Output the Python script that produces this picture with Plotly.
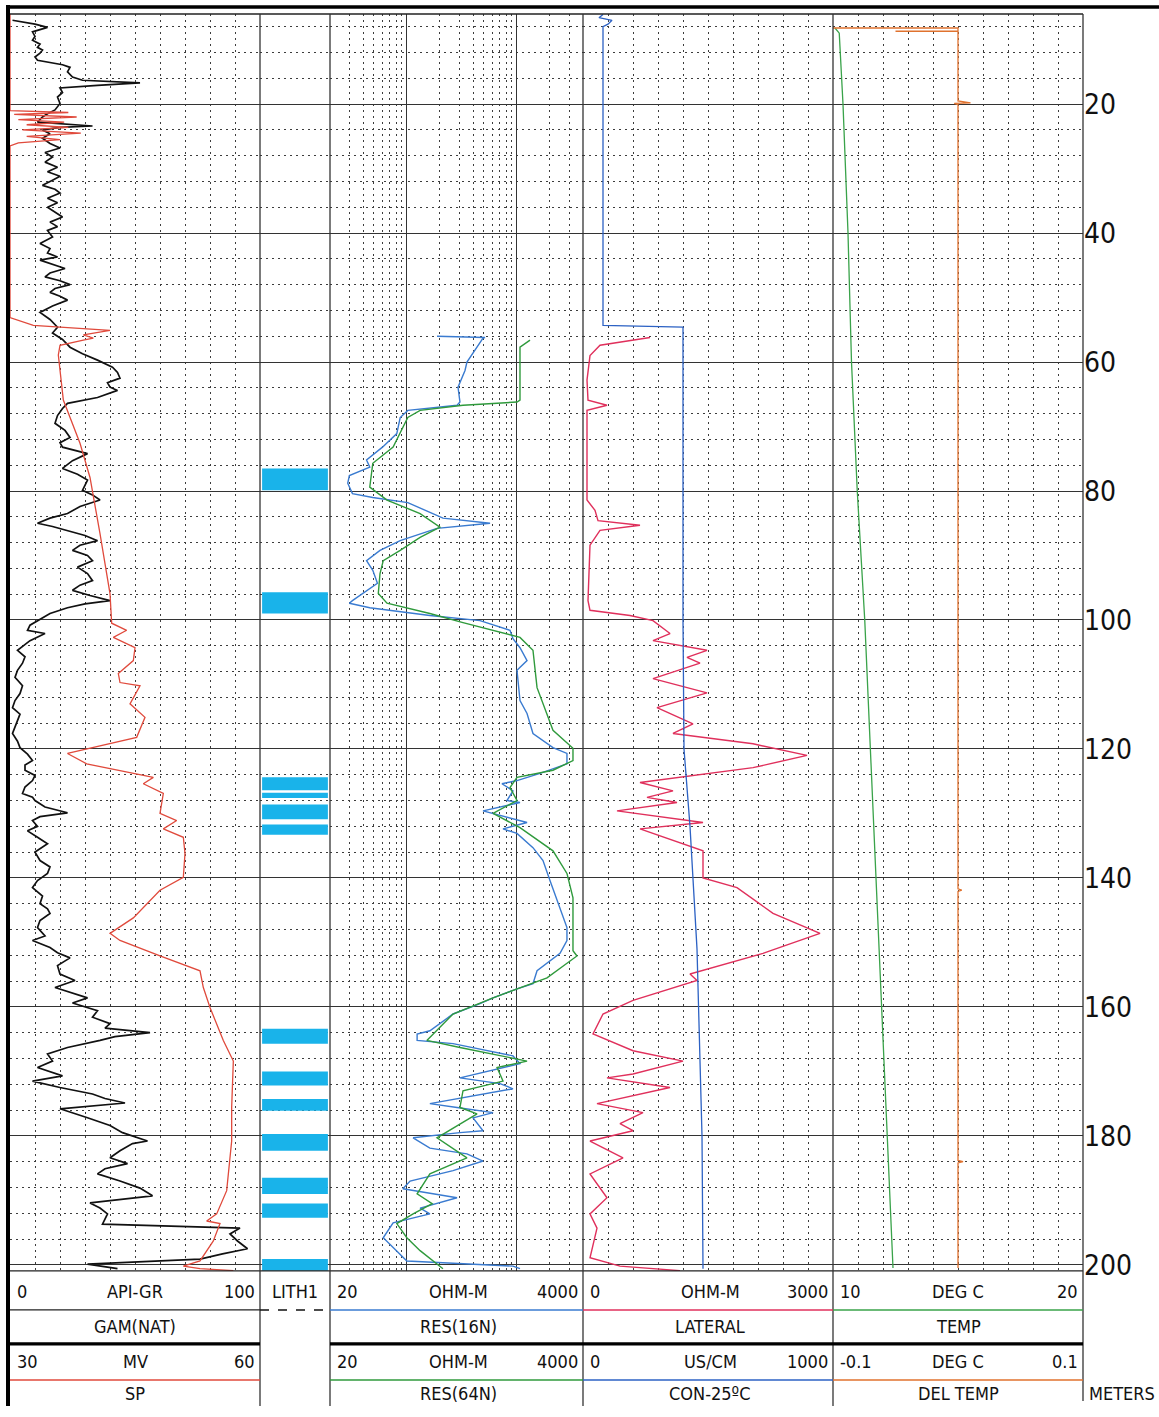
import math
import plotly.graph_objects as go

# ---------------- DATA ----------------
GR_DEPTH = [7.0, 7.6, 8.1, 8.5, 8.8, 9.5, 10.1, 10.7, 11.2, 11.6, 12.1, 12.7, 13.2, 13.9, 14.3, 15.0, 15.8, 16.3, 16.7, 17.1,
            17.5, 18.2, 18.9, 19.9, 20.9, 21.5, 22.0, 22.8, 23.4, 23.6, 24.0, 24.6, 25.3, 26.1, 26.8, 27.5, 28.2, 29.0, 29.8, 30.5,
            31.2, 31.8, 32.6, 33.2, 33.8, 34.6, 35.3, 36.0, 36.8, 37.5, 38.3, 39.0, 39.6, 40.6, 41.6, 42.4, 43.1, 43.7, 44.2, 44.9,
            45.5, 46.2, 46.8, 47.4, 48.0, 48.6, 49.2, 49.8, 50.4, 51.3, 52.3, 53.4, 54.6, 55.5, 56.5, 57.7, 58.7, 59.7, 60.8, 61.6,
            62.5, 63.2, 63.9, 64.4, 65.5, 66.4, 67.2, 68.3, 69.5, 70.6, 71.7, 72.5, 73.2, 74.2, 75.3, 76.5, 77.4, 78.3, 79.9, 80.6,
            81.4, 82.4, 83.5, 84.2, 85.0, 85.5, 86.1, 86.9, 87.7, 88.4, 89.2, 90.0, 90.8, 91.8, 92.8, 93.9, 94.6, 95.4, 96.2, 97.0,
            97.5, 98.1, 99.0, 100.1, 100.8, 101.6, 102.1, 103.2, 104.7, 105.7, 106.7, 107.8, 108.9, 110.2, 111.4, 112.5, 113.6, 114.6,
            115.6, 116.6, 117.6, 118.8, 119.8, 120.8, 121.8, 122.5, 123.3, 124.1, 124.9, 125.9, 126.9, 127.5, 128.0, 129.0, 129.9,
            130.5, 131.1, 132.0, 132.7, 133.7, 134.7, 136.0, 137.3, 138.3, 139.3, 140.4, 141.5, 142.8, 144.0, 144.8, 145.5, 146.6,
            147.7, 149.0, 149.7, 150.8, 151.6, 152.4, 153.6, 154.9, 155.9, 157.0, 157.8, 158.6, 159.4, 160.6, 161.6, 162.6, 163.3,
            164.0, 164.6, 165.2, 166.3, 167.3, 168.4, 169.4, 170.7, 171.5, 172.5, 173.5, 174.2, 174.9, 175.8, 176.5, 177.2, 178.4,
            179.5, 180.8, 181.2, 182.3, 183.4, 184.3, 185.1, 185.9, 187.0, 188.1, 189.3, 190.4, 191.2, 192.1, 193.7, 194.3, 195.2,
            196.3, 197.5, 198.3, 199.1, 199.9, 200.6]
GR_API = [1, 10, 15, 12, 9, 10, 9, 12, 11, 13, 12, 10, 11, 21, 24, 23, 25, 29, 52, 35,
          20, 21, 19, 20, 18, 15, 13, 11, 33, 20, 13, 16, 13, 16, 20, 14, 17, 14, 19, 15,
          20, 17, 13, 18, 20, 15, 19, 15, 18, 21, 16, 19, 15, 17, 12, 16, 15, 19, 12, 17,
          22, 16, 14, 20, 24, 18, 16, 20, 23, 17, 12, 16, 19, 17, 21, 24, 29, 35, 41, 43,
          44, 39, 40, 43, 35, 23, 21, 19, 18, 22, 24, 20, 21, 31, 25, 21, 27, 31, 29, 33,
          36, 28, 23, 16, 11, 17, 23, 30, 35, 28, 25, 31, 33, 27, 31, 33, 28, 25, 32, 40,
          30, 23, 16, 11, 8, 7, 14, 8, 3, 6, 5, 3, 2, 5, 4, 2, 1, 4,
          3, 2, 1, 3, 4, 7, 9, 6, 6, 10, 9, 6, 5, 9, 10, 14, 23,
          12, 9, 11, 7, 11, 15, 10, 12, 16, 15, 11, 9, 13, 12, 15, 16, 12,
          11, 14, 9, 16, 19, 24, 19, 20, 26, 18, 25, 31, 25, 35, 33, 40, 38,
          56, 42, 36, 23, 15, 17, 11, 21, 9, 20, 33, 38, 46, 20, 26, 31, 40,
          45, 55, 49, 44, 40, 47, 38, 35, 44, 52, 57, 32, 36, 39, 37, 92, 88,
          91, 95, 85, 76, 31, 43]

SP_DEPTH = [6.0, 21.0, 21.3, 21.6, 22.0, 22.4, 22.8, 23.2, 23.6, 24.0, 24.5, 25.0, 25.5, 26.0, 26.5, 53.1, 54.3, 55.1, 55.8,
            56.3, 56.6, 57.4, 58.9, 65.9, 72.6, 77.9, 86.6, 95.9, 100.5, 101.6, 102.7, 104.3, 106.3, 108.3, 109.7, 110.2, 113.0,
            115.1, 118.2, 119.5, 120.7, 122.3, 123.8, 124.4, 125.4, 126.9, 130.0, 131.1, 132.4, 133.7, 136.2, 139.9, 141.9, 146.2,
            148.6, 149.7, 152.1, 154.4, 157.0, 160.1, 165.2, 168.4, 175.6, 180.8, 188.5, 192.1, 193.2, 193.6, 196.3, 199.4, 200.2,
            200.6, 200.9]
SP_MV = [30, 30, 37, 30.5, 38, 31, 36.5, 32, 37, 31.5, 38.5, 32, 36, 31, 30, 30, 32.8, 42, 38.8,
         40, 38.8, 36, 35.8, 36.4, 38.4, 39.6, 40.8, 42, 42.2, 44, 42.4, 45, 44.8, 43, 43.2, 45.6, 44.4,
         46.2, 45.2, 40.8, 36.9, 39.2, 45.2, 47.2, 46, 48.4, 48, 50, 48.4, 50.8, 51, 50.8, 48, 44.8,
         42, 43.2, 48, 52.8, 53.2, 54, 55.6, 56.8, 56.6, 56.6, 56, 54.8, 53.6, 55.2, 54.4, 52.8, 50.8,
         52.8, 56.8]

LITH_TOP = [76.5, 95.7, 124.4, 126.8, 128.6, 131.7, 163.4, 170.0, 174.3, 179.7, 186.5, 190.5, 199.1]
LITH_BOT = [79.9, 99.0, 126.4, 127.6, 130.9, 133.3, 165.7, 172.2, 176.1, 182.3, 189.0, 192.7, 200.9]

RES16_DEPTH = [56.0, 56.2, 56.3, 60.0, 61.3, 63.9, 66.2, 66.7, 67.0, 67.5, 68.6, 71.1, 73.2, 75.2, 76.3, 77.6, 78.8, 80.4,
               81.0, 81.8, 84.2, 85.0, 85.8, 87.7, 89.2, 90.8, 92.3, 94.3, 97.0, 97.4, 98.1, 99.3, 100.1, 101.6, 102.9, 104.3,
               106.3, 107.8, 112.5, 114.5, 117.6, 119.8, 120.7, 122.3, 123.8, 124.9, 125.4, 126.5, 128.0, 128.3, 129.6, 130.0,
               131.4, 132.4, 133.1, 135.3, 137.3, 140.4, 144.6, 147.7, 149.7, 151.7, 154.4, 156.4, 157.2, 158.6, 159.5, 161.1,
               163.7, 164.2, 165.2, 165.7, 167.6, 168.8, 171.0, 171.9, 172.7, 174.1, 175.0, 175.6, 176.4, 177.2, 179.2, 179.5,
               180.3, 181.9, 182.8, 183.9, 185.4, 187.0, 188.2, 189.6, 191.2, 192.1, 193.5, 195.8, 199.4, 200.2, 200.6]
RES16_OHMM = [188, 514, 493, 352, 338, 292, 304, 286, 200, 102, 87, 81, 60, 43, 46, 30, 29, 32,
              49, 102, 213, 571, 188, 87, 57, 43, 49, 54, 32, 30, 46, 162, 463, 867, 923, 1069,
              1239, 1004, 1069, 1239, 1403, 2133, 2858, 2858, 1626, 1004, 733, 923, 814, 1069, 493, 608,
              1239, 749, 1004, 1403, 1731, 2003, 2471, 2858, 2858, 2471, 1528, 1403, 1004, 608, 463, 263,
              162, 124, 124, 263, 923, 1069, 304, 703, 923, 304, 162, 286, 608, 400, 493, 304,
              114, 162, 352, 493, 263, 107, 92, 286, 132, 162, 75, 61, 100, 923, 1069]

RES64_DEPTH = [56.6, 57.7, 65.9, 66.2, 66.7, 67.5, 68.6, 73.2, 75.7, 79.4, 81.4, 83.5, 85.6, 87.2, 89.2, 90.8, 92.8, 95.9,
               97.4, 99.0, 100.4, 102.1, 102.7, 104.7, 110.5, 117.1, 119.9, 121.8, 123.3, 124.4, 126.0, 128.0, 130.0, 132.2,
               135.8, 139.3, 143.1, 151.3, 152.1, 155.5, 158.6, 161.1, 165.2, 166.3, 168.4, 169.4, 171.5, 173.0, 175.6, 176.6,
               180.3, 183.4, 185.9, 189.0, 190.5, 192.1, 193.6, 195.8, 197.8, 200.6]
RES64_OHMM = [1319, 1069, 1069, 1004, 324, 132, 102, 75, 49, 46, 66, 132, 200, 132, 87, 61, 57, 55,
              66, 162, 324, 814, 1069, 1403, 1528, 2133, 3243, 3243, 2133, 1004, 867, 1004, 608, 1069,
              2133, 2858, 3243, 3243, 3525, 1884, 608, 263, 152, 304, 1239, 661, 749, 324, 304, 435,
              188, 352, 162, 124, 170, 114, 81, 100, 132, 213]

LAT_DEPTH = [56.2, 57.4, 59.0, 62.8, 65.9, 66.7, 67.5, 81.4, 83.0, 84.6, 85.3, 86.1, 88.4, 97.0, 98.5, 99.3, 100.1,
             102.1, 103.2, 104.7, 105.8, 106.7, 109.1, 111.3, 113.6, 116.1, 117.6, 119.2, 121.0, 122.9, 125.2, 126.5, 127.5,
             128.3, 129.6, 131.4, 132.4, 135.8, 140.0, 141.5, 145.5, 148.6, 151.3, 151.7, 154.9, 155.9, 159.0, 161.1, 164.2,
             166.8, 168.4, 170.4, 171.0, 172.5, 175.0, 176.4, 178.1, 179.2, 180.8, 183.4, 185.9, 189.6, 192.1, 194.3, 198.9,
             200.2, 200.9]
LAT_OHMM = [804, 204, 84, 48, 60, 288, 48, 48, 144, 180, 684, 204, 84, 60, 84, 564, 840,
            1044, 840, 1488, 1248, 1404, 840, 1488, 888, 1320, 1080, 2040, 2688, 2040, 684, 1080, 768,
            1128, 408, 1440, 684, 1440, 1440, 1848, 2280, 2844, 2244, 2160, 1284, 1368, 600, 240, 120,
            600, 1200, 600, 288, 1044, 168, 720, 444, 600, 84, 480, 84, 288, 84, 168, 84,
            444, 1164]

CON_DEPTH = [6.1, 6.6, 7.0, 7.6, 8.0, 53.5, 54.3, 54.6, 100.0, 120.0, 132.0, 151.0, 180.0, 200.6]
CON_USCM = [80, 64, 116, 100, 80, 80, 80, 400, 400, 404, 428, 456, 476, 480]

TEMP_DEPTH = [8.2, 9.0, 20.0, 40.0, 60.0, 80.0, 100.0, 120.0, 140.0, 160.0, 180.0, 200.5]
TEMP_DEGC = [10.08, 10.25, 10.4, 10.6, 10.74, 10.97, 11.27, 11.5, 11.72, 11.95, 12.18, 12.4]

DT_DEPTH = [8.2, 8.2, 8.7, 8.7, 8.7, 19.5, 19.8, 19.9, 20.1, 141.7, 141.9, 142.1, 183.8, 184.0, 184.2, 200.5]
DT_DEGC = [-0.1, 0.0, 0.0, -0.05, 0.0, 0.0, 0.01, -0.003, 0.0, 0.0, 0.003, 0.0, 0.0, 0.004, 0.0, 0.0]

DEPTH_TICKS = [20, 40, 60, 80, 100, 120, 140, 160, 180, 200]
RES_MINOR = [30, 40, 50, 60, 70, 80, 90, 200, 300, 400, 500, 600, 700, 800, 900, 2000, 3000]

# ---------------- LAYOUT CONSTANTS ----------------
W, H = 1159, 1417
HE = 1405  # effective rendered paper height observed in the screenshot
X0, X1, X2, X3, X4, X5 = 10, 260, 330, 583, 833, 1083
PT, PB = 14, 1270
D_TOP, D_BOT = 6.03, 200.94
NARROW = "Liberation Sans Narrow, DejaVu Sans Condensed, Arial Narrow, DejaVu Sans, sans-serif"
DOT = "2px,4px"
GRIDC = "#3c3c3c"


def px(x):
    return x / W


def py(y):
    return max(0.0, 1 - y / HE)


fig = go.Figure()

fig.add_trace(go.Scatter(x=SP_MV, y=SP_DEPTH, xaxis="x2", yaxis="y", mode="lines",
                         line=dict(color="#e04a3c", width=1.3)))
fig.add_trace(go.Scatter(x=GR_API, y=GR_DEPTH, xaxis="x", yaxis="y", mode="lines",
                         line=dict(color="#111111", width=1.7)))

centers = [(a + b) / 2 for a, b in zip(LITH_TOP, LITH_BOT)]
thick = [b - a for a, b in zip(LITH_TOP, LITH_BOT)]
fig.add_trace(go.Bar(y=centers, x=[0.94] * len(centers), base=0.03, width=thick, orientation="h",
                     xaxis="x3", yaxis="y", marker=dict(color="#19b3ea", line=dict(width=0))))

fig.add_trace(go.Scatter(x=RES64_OHMM, y=RES64_DEPTH, xaxis="x5", yaxis="y", mode="lines",
                         line=dict(color="#2f9a3c", width=1.4)))
fig.add_trace(go.Scatter(x=RES16_OHMM, y=RES16_DEPTH, xaxis="x4", yaxis="y", mode="lines",
                         line=dict(color="#3a7bd0", width=1.4)))

fig.add_trace(go.Scatter(x=CON_USCM, y=CON_DEPTH, xaxis="x7", yaxis="y", mode="lines",
                         line=dict(color="#2d62c4", width=1.3)))
fig.add_trace(go.Scatter(x=LAT_OHMM, y=LAT_DEPTH, xaxis="x6", yaxis="y", mode="lines",
                         line=dict(color="#e0305c", width=1.4)))

fig.add_trace(go.Scatter(x=TEMP_DEGC, y=TEMP_DEPTH, xaxis="x8", yaxis="y", mode="lines",
                         line=dict(color="#3aa34a", width=1.3)))
fig.add_trace(go.Scatter(x=DT_DEGC, y=DT_DEPTH, xaxis="x9", yaxis="y", mode="lines",
                         line=dict(color="#e0722e", width=1.3)))

base_ax = dict(showticklabels=False, ticks="", zeroline=False, showline=False, fixedrange=True)


def lin_axis(x_from, x_to, rng, dtick, grid=True):
    return dict(base_ax, domain=[px(x_from), px(x_to)], range=rng, anchor="y", showgrid=grid,
                tick0=rng[0], dtick=dtick, gridcolor=GRIDC, griddash=DOT, gridwidth=1)


def overlay_axis(rng, over, typ="linear"):
    return dict(base_ax, overlaying=over, range=rng, anchor="y", visible=False, type=typ, showgrid=False)


res_rng = [math.log10(20), math.log10(4000)]

fig.update_layout(
    width=W, height=H, autosize=False, margin=dict(l=0, r=0, t=0, b=0, pad=0),
    paper_bgcolor="white", plot_bgcolor="white", showlegend=False,
    xaxis=lin_axis(X0, X1, [0, 100], 10),
    xaxis2=overlay_axis([30, 60], "x"),
    xaxis3=lin_axis(X1, X2, [0, 1], 1, grid=False),
    xaxis4=dict(base_ax, domain=[px(X2), px(X3)], type="log", range=res_rng, anchor="y",
                tickmode="array", tickvals=[100, 1000], showgrid=True, gridcolor="#333333", gridwidth=1.3,
                minor=dict(tickmode="array", tickvals=RES_MINOR, showgrid=True, gridcolor=GRIDC,
                           griddash=DOT, gridwidth=1)),
    xaxis5=overlay_axis(res_rng, "x4", "log"),
    xaxis6=lin_axis(X3, X4, [0, 3000], 300),
    xaxis7=overlay_axis([0, 1000], "x6"),
    xaxis8=lin_axis(X4, X5, [10, 20], 1),
    xaxis9=overlay_axis([-0.1, 0.1], "x8"),
    yaxis=dict(domain=[py(PB), py(PT)], range=[D_BOT, D_TOP], anchor="free", position=px(X5), side="right",
               tickmode="array", tickvals=DEPTH_TICKS, ticks="", showticklabels=True,
               tickfont=dict(family=NARROW, size=28, color="#111"),
               showgrid=True, gridcolor="#333333", gridwidth=1.3, zeroline=False, showline=False,
               fixedrange=True,
               minor=dict(tick0=0, dtick=4, showgrid=True, gridcolor=GRIDC, griddash=DOT, gridwidth=1)),
)

shapes = []


def hline(y, xa, xb, color="#222", width=1.2, dash="solid"):
    shapes.append(dict(type="line", xref="paper", yref="paper", x0=px(xa), x1=px(xb), y0=py(y), y1=py(y),
                       line=dict(color=color, width=width, dash=dash)))


def vline(x, ya, yb, color="#222", width=1.2):
    shapes.append(dict(type="line", xref="paper", yref="paper", x0=px(x), x1=px(x), y0=py(ya), y1=py(yb),
                       line=dict(color=color, width=width)))


# frame
hline(7, X0 - 3, W, "#000", 3.5)
hline(PT, X0, X5, "#222", 1.3)
hline(PB, X0, X5, "#222", 1.3)
vline(X0 - 2, 5, H, "#000", 4)
for xx in [X1, X2, X3, X4]:
    vline(xx, PT, H, "#333", 1.3)
vline(X5, PT, 1400, "#333", 1.3)

# header separators
HY1, HY2, HY3 = 1309, 1343, 1379
hline(HY1, X0, X1, "#222", 1.3)
hline(HY1, X1, X2, "#111", 1.6, "dash")
hline(HY1, X2, X3, "#3a7bd0", 1.6)
hline(HY1, X3, X4, "#e0305c", 1.6)
hline(HY1, X4, X5, "#3aa34a", 1.6)
hline(HY2, X0, X1, "#000", 3.2)
hline(HY2, X2, X5, "#000", 3.2)
hline(HY3, X0, X1, "#e04a3c", 1.6)
hline(HY3, X2, X3, "#2f9a3c", 1.6)
hline(HY3, X3, X4, "#2d62c4", 1.6)
hline(HY3, X4, X5, "#e0722e", 1.6)

fig.update_layout(shapes=shapes)

ann = []


def txt(t, x, y, anchor="center", size=18):
    ann.append(dict(text=t, x=px(x), y=py(y), xref="paper", yref="paper", showarrow=False,
                    xanchor=anchor, yanchor="middle", font=dict(family=NARROW, size=size, color="#111")))


R1, R2, R3, R4 = 1291, 1326, 1361, 1393
# row 1
txt("0", X0 + 5, R1, "left"); txt("API-GR", 135, R1); txt("100", X1 - 3, R1, "right")
txt("LITH1", (X1 + X2) / 2, R1)
txt("20", X2 + 5, R1, "left"); txt("OHM-M", 458, R1); txt("4000", X3 - 3, R1, "right")
txt("0", X3 + 5, R1, "left"); txt("OHM-M", 710, R1); txt("3000", X4 - 3, R1, "right")
txt("10", X4 + 5, R1, "left"); txt("DEG C", 958, R1); txt("20", X5 - 3, R1, "right")
# row 2
txt("GAM(NAT)", 135, R2); txt("RES(16N)", 458, R2); txt("LATERAL", 710, R2); txt("TEMP", 958, R2)
# row 3
txt("30", X0 + 5, R3, "left"); txt("MV", 135, R3); txt("60", X1 - 3, R3, "right")
txt("20", X2 + 5, R3, "left"); txt("OHM-M", 458, R3); txt("4000", X3 - 3, R3, "right")
txt("0", X3 + 5, R3, "left"); txt("US/CM", 710, R3); txt("1000", X4 - 3, R3, "right")
txt("-0.1", X4 + 5, R3, "left"); txt("DEG C", 958, R3); txt("0.1", X5 - 3, R3, "right")
# row 4
txt("SP", 135, R4); txt("RES(64N)", 458, R4); txt("CON-25ºC", 710, R4); txt("DEL TEMP", 958, R4)
txt("METERS", 1122, R4)

fig.update_layout(annotations=ann)

fig.write_html("out.html", config={"responsive": False}, default_width="1159px", default_height="1417px")
